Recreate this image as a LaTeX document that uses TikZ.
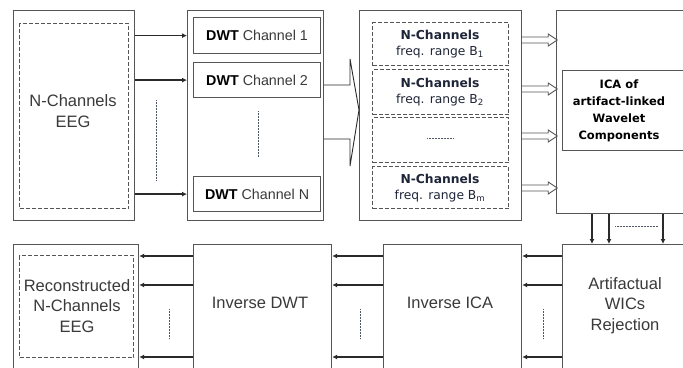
\documentclass[tikz,border=0pt]{standalone}
\usepackage{fontspec}
\setmainfont{Liberation Sans}
\newfontfamily\dvs{DejaVu Sans}
\usetikzlibrary{arrows.meta,calc}
\definecolor{txt}{HTML}{3A3A3A}
\definecolor{edge}{HTML}{555555}
\definecolor{arr}{HTML}{2A2A2A}
\definecolor{dotc}{HTML}{505868}
\definecolor{navy}{HTML}{1E2538}
\tikzset{
  box/.style={draw=edge, line width=1.2pt, inner sep=0pt, anchor=north west},
  dbox/.style={draw=edge, line width=1.1pt, dash pattern=on 4pt off 2pt, inner sep=0pt, anchor=north west},
  mainf/.style={font=\fontsize{16.5}{20.5}\selectfont, text=txt, align=center, inner sep=0pt},
  chf/.style={font=\fontsize{14.3}{17}\selectfont, text=txt, inner sep=0pt},
  cf/.style={font=\dvs\fontsize{12.3}{16.5}\selectfont, text=navy, align=center, inner sep=0pt},
  icaf/.style={font=\dvs\bfseries\fontsize{11.5}{17}\selectfont, text=black, align=center, inner sep=0pt},
  conn/.style={draw=arr, line width=1.6pt, -{Latex[length=5pt,width=5pt]}},
  hollowarr/.style={draw=edge, line width=0.9pt, line join=miter},
  bigarr/.style={draw=arr, line width=0.9pt, line join=miter},
  dotl/.style={draw=dotc, line width=0.8pt, dash pattern=on 0.6pt off 0.9pt},
}
\begin{document}
\begin{tikzpicture}[x=1pt,y=-1pt]
\useasboundingbox (0,0) rectangle (683,367);
\fill[white] (0,0) rectangle (683,367);
\clip (0,0) rectangle (683,367);

% ---- top row ----
\node[box, minimum width=121, minimum height=210] (A) at (13,10) {};
\node[dbox, minimum width=109, minimum height=185] (Ai) at (19,23) {};
\node[mainf] (At) at (73,111) {N-Channels\\EEG};

\node[box, minimum width=136, minimum height=210] (B) at (187,10) {};
\node[box, minimum width=127, minimum height=36] (B1) at (193,17) {};
\node[box, minimum width=127, minimum height=35] (B2) at (193,62) {};
\node[box, minimum width=127, minimum height=35] (BN) at (193,176) {};
\node[chf] at (B1.center) {\textbf{\color{black}DWT} Channel 1};
\node[chf] at (B2.center) {\textbf{\color{black}DWT} Channel 2};
\node[chf] at (BN.center) {\textbf{\color{black}DWT} Channel N};

\node[box, minimum width=162, minimum height=210] (C) at (359,10) {};
\node[dbox, minimum width=136, minimum height=43] (C1) at (372,22) {};
\node[dbox, minimum width=136, minimum height=45] (C2) at (372,69) {};
\node[dbox, minimum width=136, minimum height=45] (C3) at (372,117) {};
\node[dbox, minimum width=136, minimum height=42] (C4) at (372,166) {};
\node[cf] at (440,44) {\textbf{N-Channels}\\freq. range B\textsubscript{1}};
\node[cf] at (440,92) {\textbf{N-Channels}\\freq. range B\textsubscript{2}};
\node[cf] at (440,188) {\textbf{N-Channels}\\freq. range B\textsubscript{m}};

\node[box, minimum width=140, minimum height=203] (D) at (556,10) {};
\node[box, minimum width=130, minimum height=80] (Di) at (562,70) {};
\node[icaf] at (619,111) {ICA of\\artifact-linked\\Wavelet\\Components};

% ---- bottom row ----
\node[box, minimum width=130, minimum height=140] (E) at (562,244) {};
\node[mainf] at (625,305.5) {Artifactual\\WICs\\Rejection};
\node[box, minimum width=138, minimum height=140] (I) at (383,244) {};
\node[mainf] at (450,303) {Inverse ICA};
\node[box, minimum width=138, minimum height=140] (W) at (193,244) {};
\node[mainf] at (260,303) {Inverse DWT};
\node[box, minimum width=125, minimum height=140] (R) at (13,244) {};
\node[dbox, minimum width=114, minimum height=102] (Ri) at (19,255) {};
\node[mainf] at (77,306) {Reconstructed\\N-Channels\\EEG};

% ---- connectors top ----
\foreach \n in {B1,B2,BN} \draw[conn] (A.east |- \n.west) -- (B.west |- \n.west);
\draw[dotl] (156,100) -- (156,180);
\draw[dotl] (258,111) -- (258,157);
\draw[dotl] (427,138) -- (453,138);

% big arrow B -> C
\coordinate (ba) at (0,85);
\coordinate (bb) at (0,139);
\coordinate (bt) at (0,110);
\draw[bigarr] (B.east |- ba) -- (350,85) -- (350,59) -- (C.west |- bt) -- (350,166) -- (350,139) -- (B.east |- bb);

% hollow arrows C -> D
\foreach \y in {40,89,136,188} {
  \coordinate (h) at (0,\y);
  \draw[hollowarr] (C.east |- h) ++(0,-3) -- ++(26,0) -- ++(0,-3) -- ++(9,6) -- ++(-9,6) -- ++(0,-3) -- ++(-26,0);
}

% down arrows D -> E
\foreach \x in {592,609,663} {
  \coordinate (v) at (\x,0);
  \draw[conn] (D.south -| v) -- (E.north -| v);
}
\draw[dotl] (615,226) -- (658,226);

% bottom arrows
\foreach \y in {256,285,357} {
  \coordinate (q) at (0,\y);
  \draw[conn] (E.west |- q) -- (I.east |- q);
  \draw[conn] (I.west |- q) -- (W.east |- q);
  \draw[conn] (W.west |- q) -- (R.east |- q);
}
\draw[dotl] (543,309) -- (543,339);
\draw[dotl] (360,309) -- (360,339);
\draw[dotl] (169,309) -- (169,339);
\end{tikzpicture}
\end{document}
